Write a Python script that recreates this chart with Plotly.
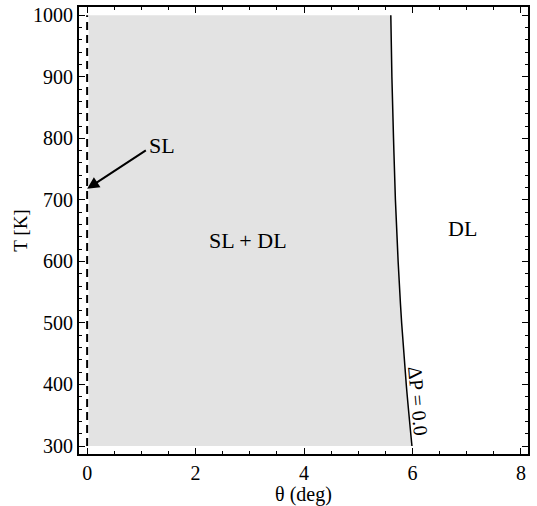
import plotly.graph_objects as go

# Phase boundary (ΔP = 0.0): temperature vs angle
curve_T = [1000, 900, 800, 700, 600, 500, 400, 300]
curve_theta = [5.60, 5.62, 5.65, 5.685, 5.735, 5.80, 5.885, 5.99]

# SL line at theta = 0
sl_theta = [0, 0]
sl_T = [300, 1000]

fill_left = 0.03

fig = go.Figure()

# grey SL + DL region
poly_x = [fill_left, fill_left] + curve_theta + [fill_left]
poly_y = [300, 1000] + curve_T + [300]
fig.add_trace(go.Scatter(x=poly_x, y=poly_y, mode="none", fill="toself",
                         fillcolor="#e3e3e3", hoverinfo="skip", showlegend=False))

# boundary curve
fig.add_trace(go.Scatter(x=curve_theta, y=curve_T, mode="lines", line_shape="spline",
                         line=dict(color="black", width=1.5), showlegend=False))

# dashed SL line
fig.add_trace(go.Scatter(x=sl_theta, y=sl_T, mode="lines",
                         line=dict(color="black", width=2, dash="8px,5px"), showlegend=False))

font_serif = "Liberation Serif"

fig.add_annotation(x=0.0, y=718, ax=1.11, ay=782, xref="x", yref="y", axref="x", ayref="y",
                   showarrow=True, arrowhead=2, arrowsize=1.2, arrowwidth=2, arrowcolor="black", text="")
fig.add_annotation(x=1.38, y=789, text="SL", showarrow=False,
                   font=dict(family=font_serif, size=22, color="black"))
fig.add_annotation(x=2.97, y=634, text="SL + DL", showarrow=False,
                   font=dict(family=font_serif, size=22, color="black"))
fig.add_annotation(x=6.92, y=653, text="DL", showarrow=False,
                   font=dict(family=font_serif, size=22, color="black"))
fig.add_annotation(x=6.11, y=372, text="ΔP = 0.0", showarrow=False, textangle=85,
                   font=dict(family=font_serif, size=20, color="black"))

axis_common = dict(showgrid=False, zeroline=False, showline=True, linecolor="black",
                   linewidth=2, mirror="allticks", ticks="inside", ticklen=6, tickwidth=1,
                   tickcolor="black", tickfont=dict(family=font_serif, size=20, color="black"))

fig.update_xaxes(range=[-0.15, 8.13], tickvals=[0, 2, 4, 6, 8],
                 minor=dict(ticks="inside", dtick=0.5, ticklen=3, tickcolor="black", tick0=0),
                 title=dict(text="θ (deg)", font=dict(family=font_serif, size=20, color="black"),
                            standoff=4),
                 **axis_common)
fig.update_yaxes(range=[287, 1013.5], tickvals=[300, 400, 500, 600, 700, 800, 900, 1000],
                 minor=dict(ticks="inside", dtick=20, ticklen=3, tickcolor="black", tick0=300),
                 title=dict(text="T [K]", font=dict(family=font_serif, size=19, color="black"),
                            standoff=0),
                 **axis_common)

fig.update_layout(width=537, height=506, margin=dict(l=79, r=9, t=4, b=51),
                  font=dict(family=font_serif, color="black"),
                  plot_bgcolor="white", paper_bgcolor="white", showlegend=False)

fig.write_html("out.html", config={"displayModeBar": False},
               post_script="document.body.style.margin='0';")
